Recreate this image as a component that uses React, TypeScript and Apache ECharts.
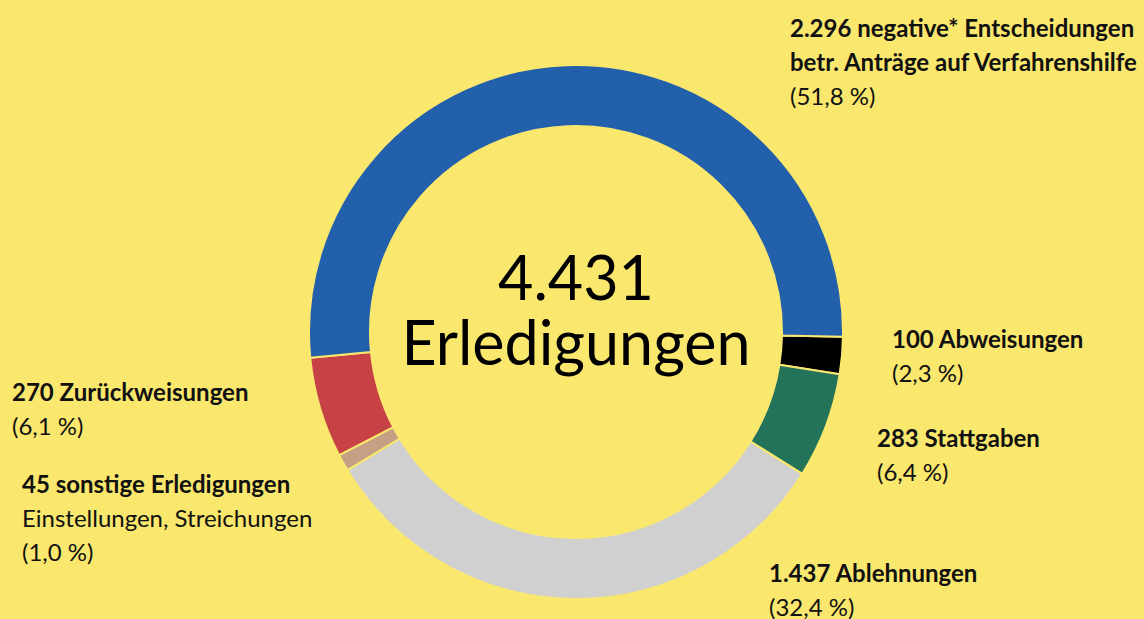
import React, { useEffect, useRef } from "react";
import * as echarts from "echarts";

// ---- data ----
const categories = [
  "Abweisungen",
  "Stattgaben",
  "Ablehnungen",
  "sonstige Erledigungen",
  "Zurückweisungen",
  "negative* Entscheidungen",
];
const values = [100, 283, 1437, 45, 270, 2296];
const percentLabels = ["2,3", "6,4", "32,4", "1,0", "6,1", "51,8"];
const extraLines = [[], [], [], ["Einstellungen, Streichungen"], [], []];
const boldExtraLines = [[], [], [], [], [], ["betr. Anträge auf Verfahrenshilfe"]];
const totalLabel = "4.431";
const totalCaption = "Erledigungen";

// ---- styles / layout ----
const colors = ["#000000", "#22735A", "#D0D0D0", "#C5A085", "#C64244", "#2360AB"];
const BG = "#FAE76E";
const FONT = "Lato";
const LABEL_SIZE = 24;
const LINE_H = 34;
const labelAnchors = [
  { x: 892, y: 338 },
  { x: 877, y: 437 },
  { x: 769, y: 572 },
  { x: 22, y: 483 },
  { x: 12, y: 391 },
  { x: 790, y: 27 },
];

function fmtThousands(n: number): string {
  return String(n).replace(/\B(?=(\d{3})+(?!\d))/g, ".");
}

export default function App() {
  const ref = useRef<HTMLDivElement>(null);
  useEffect(() => {
    if (!ref.current) return;
    const chart = echarts.init(ref.current, undefined, { renderer: "svg" });

    const graphics: any[] = [];
    categories.forEach((name, i) => {
      const a = labelAnchors[i];
      const lines: { text: string; bold: boolean }[] = [];
      lines.push({ text: fmtThousands(values[i]) + " " + name, bold: true });
      boldExtraLines[i].forEach((t) => lines.push({ text: t, bold: true }));
      extraLines[i].forEach((t) => lines.push({ text: t, bold: false }));
      lines.push({ text: "(" + percentLabels[i] + " %)", bold: false });
      lines.forEach((ln, k) => {
        graphics.push({
          type: "text",
          x: a.x,
          y: a.y + k * LINE_H,
          silent: true,
          style: {
            text: ln.text,
            fontFamily: FONT,
            fontSize: LABEL_SIZE,
            fontWeight: ln.bold ? "bold" : "normal",
            fill: "#111",
            textAlign: "left",
            textVerticalAlign: "middle",
          },
        });
      });
    });
    graphics.push({
      type: "text",
      x: 576,
      y: 309,
      silent: true,
      style: {
        text: totalLabel + "\n" + totalCaption,
        fontFamily: FONT,
        fontSize: 61,
        lineHeight: 65,
        fill: "#000",
        textAlign: "center",
        textVerticalAlign: "middle",
      },
    });

    chart.setOption({
      animation: false,
      backgroundColor: BG,
      graphic: graphics,
      series: [
        {
          type: "pie",
          center: [576, 332],
          radius: [206, 267],
          startAngle: -1,
          clockwise: true,
          silent: true,
          label: { show: false },
          labelLine: { show: false },
          emphasis: { disabled: true },
          itemStyle: { borderColor: BG, borderWidth: 2 },
          data: values.map((v, i) => ({
            value: v,
            name: categories[i],
            itemStyle: { color: colors[i] },
          })),
        },
      ],
    });
    return () => chart.dispose();
  }, []);
  return (
    <div
      ref={ref}
      style={{ position: "fixed", left: 0, top: 0, width: 1144, height: 619 }}
    />
  );
}
